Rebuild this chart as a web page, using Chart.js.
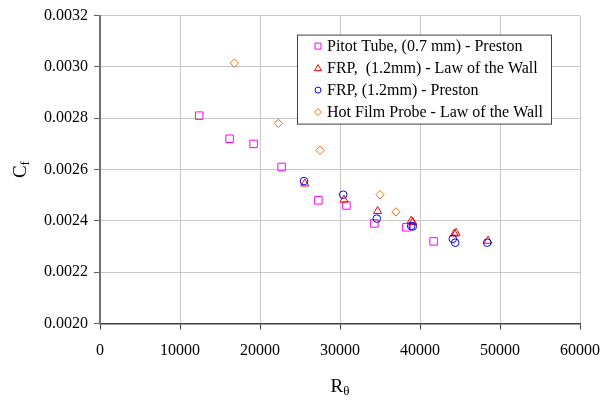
<!DOCTYPE html>
<html>
<head>
<meta charset="utf-8">
<script src="https://cdn.jsdelivr.net/npm/chart.js@4/dist/chart.umd.min.js"></script>
<style>
  html, body { margin: 0; padding: 0; background: #fff; }
  #wrap { width: 603px; height: 401px; }
</style>
</head>
<body>
<div id="wrap"><canvas id="cfchart" width="603" height="401"></canvas></div>
<script>
// data
var seriesNames = ["Pitot Tube, (0.7 mm) - Preston", "FRP,  (1.2mm) - Law of the Wall",
                   "FRP, (1.2mm) - Preston", "Hot Film Probe - Law of the Wall"];

var pitotX = [12400, 16200, 19200, 22700, 27300, 30800, 34300, 38300, 41700];
var pitotY = [0.00281, 0.00272, 0.00270, 0.00261, 0.00248, 0.00246, 0.00239, 0.002375, 0.00232];

var frpLawX = [25600, 30500, 34700, 38900, 39100, 44300, 44500, 48500];
var frpLawY = [0.002545, 0.002482, 0.002438, 0.00240, 0.002395, 0.00235, 0.002353, 0.002322];

var frpPrestonX = [25500, 30400, 34600, 38900, 39100, 44100, 44400, 48400];
var frpPrestonY = [0.002555, 0.002502, 0.002409, 0.00238, 0.002378, 0.00233, 0.002315, 0.002315];

var hotFilmX = [16800, 22300, 27500, 35000, 37000];
var hotFilmY = [0.003015, 0.00278, 0.002675, 0.002502, 0.002435];

var xTicks = [0, 10000, 20000, 30000, 40000, 50000, 60000];
var yTicks = [0.0020, 0.0022, 0.0024, 0.0026, 0.0028, 0.0030, 0.0032];

function pts(xs, ys) {
  return xs.map(function (x, i) { return { x: x, y: ys[i] }; });
}

var serif = "'Liberation Serif', 'Times New Roman', serif";
Chart.defaults.font.family = serif;
Chart.defaults.font.size = 16;
Chart.defaults.color = "#000";

var markerStyles = [
  { style: "rect", color: "#ff00ff", r: 5.3 },
  { style: "triangle", color: "#ff0000", r: 4.7 },
  { style: "circle", color: "#0000ff", r: 3.8 },
  { style: "rectRot", color: "#ff6a00", r: 4.2 }
];

var cfData = {
  datasets: [
    { label: seriesNames[0], data: pts(pitotX, pitotY), order: 3 },
    { label: seriesNames[1], data: pts(frpLawX, frpLawY), order: 2 },
    { label: seriesNames[2], data: pts(frpPrestonX, frpPrestonY), order: 1 },
    { label: seriesNames[3], data: pts(hotFilmX, hotFilmY), order: 0 }
  ].map(function (ds, i) {
    var m = markerStyles[i];
    ds.pointStyle = m.style;
    ds.pointRadius = m.r;
    ds.pointHoverRadius = m.r;
    ds.borderColor = m.color;
    ds.pointBorderColor = m.color;
    ds.backgroundColor = "rgba(0,0,0,0)";
    ds.pointBackgroundColor = "rgba(0,0,0,0)";
    ds.pointBorderWidth = 1;
    ds.showLine = false;
    return ds;
  })
};

// legend box drawn inside the plot area, plus the axis titles with subscripts
var extras = {
  id: "extras",
  afterDraw: function (chart) {
    var ctx = chart.ctx;
    var area = chart.chartArea;
    ctx.save();

    // legend
    var bx = area.left + 197, by = area.top + 19, bw = 254, bh = 89;
    ctx.fillStyle = "#fff";
    ctx.fillRect(bx, by, bw, bh);
    ctx.strokeStyle = "#404040";
    ctx.lineWidth = 1;
    ctx.strokeRect(bx + 0.5, by + 0.5, bw, bh);
    ctx.font = "16px " + serif;
    ctx.textBaseline = "middle";
    ctx.textAlign = "left";
    chart.data.datasets.forEach(function (ds, i) {
      var cy = by + 11.5 + i * 22;
      var cx = bx + 21;
      ctx.strokeStyle = ds.borderColor;
      ctx.lineWidth = 1;
      ctx.beginPath();
      if (ds.pointStyle === "rect") {
        ctx.rect(cx - 3, cy - 3, 6, 6);
      } else if (ds.pointStyle === "triangle") {
        ctx.moveTo(cx, cy - 3.5);
        ctx.lineTo(cx + 3.5, cy + 2.5);
        ctx.lineTo(cx - 3.5, cy + 2.5);
        ctx.closePath();
      } else if (ds.pointStyle === "circle") {
        ctx.arc(cx, cy, 3, 0, Math.PI * 2);
      } else {
        ctx.moveTo(cx, cy - 3.5);
        ctx.lineTo(cx + 3.5, cy);
        ctx.lineTo(cx, cy + 3.5);
        ctx.lineTo(cx - 3.5, cy);
        ctx.closePath();
      }
      ctx.stroke();
      ctx.fillStyle = "#000";
      ctx.fillText(ds.label, bx + 30, cy + 0.5);
    });

    // x title: R with subscript theta
    ctx.fillStyle = "#000";
    ctx.textBaseline = "alphabetic";
    var mx = (area.left + area.right) / 2;
    ctx.font = "19px " + serif;
    var wR = ctx.measureText("R").width;
    ctx.font = "13px " + serif;
    var wT = ctx.measureText("θ").width;
    var sx = mx - (wR + wT) / 2;
    ctx.font = "19px " + serif;
    ctx.fillText("R", sx, 392);
    ctx.font = "13px " + serif;
    ctx.fillText("θ", sx + wR, 395);

    // y title: C with subscript f, rotated
    ctx.translate(26, (area.top + area.bottom) / 2);
    ctx.rotate(-Math.PI / 2);
    ctx.font = "19px " + serif;
    var wC = ctx.measureText("C").width;
    ctx.font = "13px " + serif;
    var wF = ctx.measureText("f").width;
    var sy = -(wC + wF) / 2;
    ctx.font = "19px " + serif;
    ctx.fillText("C", sy, 0);
    ctx.font = "13px " + serif;
    ctx.fillText("f", sy + wC, 3);
    ctx.restore();
  }
};

var cfOptions = {
  responsive: false,
  animation: false,
  layout: { padding: { top: 14, right: 23, left: 0, bottom: 0 } },
  plugins: {
    legend: { display: false },
    tooltip: { enabled: false }
  },
  scales: {
    x: {
      type: "linear",
      min: 0,
      max: 60000,
      afterFit: function (scale) {
        scale.height = 77.5;
        scale.paddingLeft = 0;
        scale.paddingRight = 0;
      },
      afterBuildTicks: function (scale) {
        scale.ticks = xTicks.map(function (v) { return { value: v }; });
      },
      ticks: {
        padding: 12,
        maxRotation: 0,
        callback: function (v) { return String(v); }
      },
      grid: { color: "#c8c8c8", lineWidth: 1, tickLength: 6, tickColor: "#404040" },
      border: { color: "#404040", width: 1.5 }
    },
    y: {
      type: "linear",
      min: 0.0020,
      max: 0.0032,
      afterFit: function (scale) { scale.width = 100; },
      afterBuildTicks: function (scale) {
        scale.ticks = yTicks.map(function (v) { return { value: v }; });
      },
      ticks: {
        padding: 6,
        callback: function (v) { return v.toFixed(4); }
      },
      grid: { color: "#c8c8c8", lineWidth: 1, tickLength: 6, tickColor: "#606060" },
      border: { color: "#707070", width: 2 }
    }
  }
};

var cfChart = new Chart(document.getElementById("cfchart"), {
  type: "scatter",
  data: cfData,
  options: cfOptions,
  plugins: [extras]
});
</script>
</body>
</html>
